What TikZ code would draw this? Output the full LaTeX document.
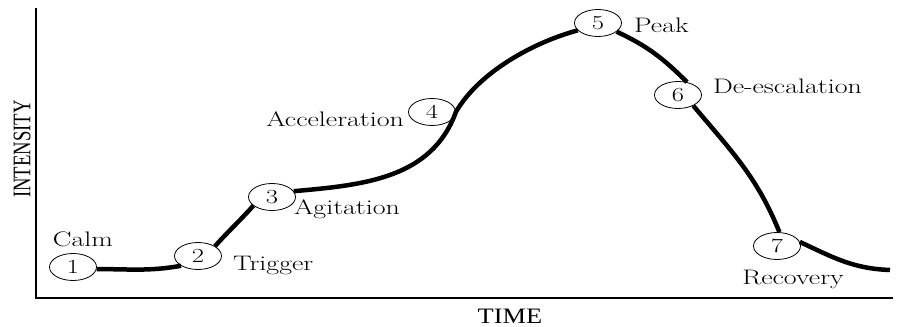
\documentclass[tikz,border=0pt]{standalone}
\usepackage{fontspec}
\newfontfamily\axisfont{Liberation Serif}
\usetikzlibrary{positioning,shapes.geometric}
\newcommand{\widetext}[1]{\scalebox{1.33}[1]{#1}}
\tikzset{
stage/.style={
draw,
ellipse,
line width=0.8pt,
minimum width=47pt,
minimum height=27pt,
inner sep=0pt,
font=\fontsize{20}{20}\selectfont
},
phase/.style={
inner sep=0pt,
font=\fontsize{21}{21}\selectfont
},
axislabel/.style={
inner sep=0pt,
font=\axisfont\fontsize{22}{22}\selectfont
},
curve/.style={
line width=4.5pt
},
axis/.style={
line width=1.2pt
}
}

\begin{document}
\begin{tikzpicture}[x=1pt,y=1pt]
\useasboundingbox (0,0) rectangle (898,327);

% axes
\coordinate (top) at (36,319);
\coordinate (origin) at (36,29);
\coordinate (right) at (893,29);
\draw[axis] (top) -- (origin) -- (right);
\node[axislabel] (time) at (510,11) {\scalebox{1.2}[1]{TIME}};
\node[axislabel,rotate=90] (intensity) at (22,178) {\scalebox{0.85}[1.15]{INTENSITY}};

% stages
\node[stage](c1) at (73,60){\widetext{1}};
\node[stage](c2) at (198,71){\widetext{2}};
\node[stage](c3) at (272,130){\widetext{3}};
\node[stage](c4) at (432,215){\widetext{4}};
\node[stage](c5) at (598,304){\widetext{5}};
\node[stage](c6) at (678,232){\widetext{6}};
\node[stage](c7) at (777,81){\widetext{7}};
\coordinate (tail) at (890,57);

% labels
\node[phase,above=6pt of c1,xshift=10pt](calm){\widetext{Calm}};
\node[phase,right=11pt of c2,yshift=-9.5pt](trigger){\widetext{Trigger}};
\node[phase,right=-2pt of c3,yshift=-12.5pt](agitation){\widetext{Agitation}};
\node[phase,left=4pt of c4,yshift=-7.5pt](acceleration){\widetext{Acceleration}};
\node[phase,right=12pt of c5,yshift=-2.5pt](peak){\widetext{Peak}};
\node[phase,right=11pt of c6,yshift=9pt](deesc){\widetext{De-escalation}};
\node[phase,below=10pt of c7,xshift=16pt](recovery){\widetext{Recovery}};

% intensity curve
\draw[curve](c1.-5) to[out=0,in=190] (c2.210);
\draw[curve](c2.30) to[out=48,in=228] (c3.205);
\draw[curve](c3.15) to[out=5,in=250] (c4.east) to[out=60,in=195,looseness=0.8] (c5.200);
\draw[curve](c5.-25) to[out=-25,in=135] (c6.55);
\draw[curve](c6.-35) to[out=-50,in=112] (c7.80);
\draw[curve](c7.10) to[out=-25,in=178] (tail);
\end{tikzpicture}
\end{document}
